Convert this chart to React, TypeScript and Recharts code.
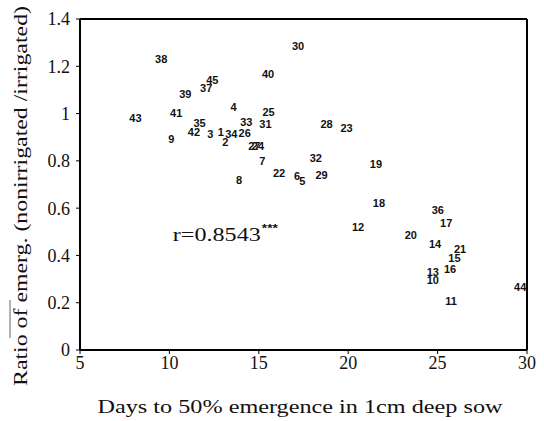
import React from "react";
import {
  ScatterChart,
  Scatter,
  XAxis,
  YAxis,
  ReferenceLine,
  ReferenceDot,
} from "recharts";

const ids = [
  38, 45, 37, 39, 4, 43, 41, 35, 42, 3, 1, 34, 2, 26, 33, 9, 24, 27, 30, 40,
  25, 31, 28, 23, 32, 7, 22, 6, 5, 29, 8, 19, 18, 12, 36, 17, 20, 14, 21, 15,
  16, 13, 10, 11, 44,
];
const daysValues = [
  9.54, 12.4, 12.06, 10.89, 13.59, 8.1, 10.38, 11.69, 11.37, 12.29, 12.87,
  13.46, 13.13, 14.21, 14.3, 10.1, 14.95, 14.75, 17.2, 15.52, 15.55, 15.37,
  18.79, 19.91, 18.19, 15.2, 16.13, 17.14, 17.44, 18.51, 13.89, 21.55, 21.72,
  20.55, 25.01, 25.48, 23.5, 24.86, 26.26, 25.94, 25.7, 24.73, 24.73, 25.76,
  29.62,
];
const ratioValues = [
  1.23, 1.141, 1.108, 1.084, 1.028, 0.983, 1.001, 0.961, 0.924, 0.915, 0.921,
  0.915, 0.879, 0.919, 0.964, 0.893, 0.862, 0.862, 1.286, 1.166, 1.008, 0.954,
  0.954, 0.937, 0.813, 0.801, 0.749, 0.738, 0.714, 0.742, 0.721, 0.788, 0.622,
  0.521, 0.593, 0.537, 0.487, 0.449, 0.428, 0.391, 0.343, 0.332, 0.297, 0.208,
  0.268,
];
const xTicks = [5, 10, 15, 20, 25, 30];
const yTicks = [0, 0.2, 0.4, 0.6, 0.8, 1, 1.2, 1.4];
const xTitle = "Days to 50% emergence in 1cm deep sow";
const yTitle = "Ratio of emerg. (nonirrigated /irrigated)";
const annotation = { x: 13.1, y: 0.49, text: "r=0.8543", stars: "***" };

const data = ids.map((id, i) => ({ x: daysValues[i], y: ratioValues[i], id }));

const serif = "'Liberation Serif', 'DejaVu Serif', serif";
const sans = "'Liberation Sans', Arial, sans-serif";

const LabelShape = (props: any) => {
  const { cx, cy, payload } = props;
  return (
    <text
      x={cx}
      y={cy}
      textAnchor="middle"
      dominantBaseline="central"
      fontFamily={sans}
      fontSize={11}
      fontWeight={700}
      fill="#111"
    >
      {payload.id}
    </text>
  );
};

const AnnotationShape = (props: any) => {
  const { cx, cy } = props;
  return (
    <g>
      <text
        x={cx - 52}
        y={cy}
        dominantBaseline="central"
        fontFamily={serif}
        fontSize={19}
        textLength={88}
        lengthAdjust="spacingAndGlyphs"
        fill="#111"
      >
        {annotation.text}
      </text>
      <text
        x={cx + 37}
        y={cy - 6}
        dominantBaseline="central"
        fontFamily={sans}
        fontSize={11}
        fontWeight={700}
        textLength={16}
        lengthAdjust="spacingAndGlyphs"
        fill="#111"
      >
        {annotation.stars}
      </text>
    </g>
  );
};

const YLabel = () => (
  <g>
    <text
      x={0}
      y={0}
      transform="translate(21,196) rotate(-90)"
      textAnchor="middle"
      dominantBaseline="central"
      fontFamily={serif}
      fontSize={18}
      textLength={380}
      lengthAdjust="spacingAndGlyphs"
      fill="#111"
    >
      {yTitle}
    </text>
    <line x1={10} x2={10} y1={300} y2={338} stroke="#666" strokeWidth={1} />
  </g>
);

const XLabel = () => (
  <text
    x={300}
    y={407}
    textAnchor="middle"
    dominantBaseline="central"
    fontFamily={serif}
    fontSize={18}
    textLength={405}
    lengthAdjust="spacingAndGlyphs"
    fill="#111"
  >
    {xTitle}
  </text>
);

export default function App() {
  return (
    <div style={{ position: "absolute", left: 0, top: 0, background: "#fff" }}>
      <ScatterChart
        width={544}
        height={421}
        margin={{ top: 19, right: 17, bottom: 41, left: 0 }}
      >
        <XAxis
          type="number"
          dataKey="x"
          domain={[5, 30]}
          ticks={xTicks}
          interval={0}
          height={30}
          axisLine={{ stroke: "#000", strokeWidth: 2 }}
          tickLine={{ stroke: "#000" }}
          tickSize={4}
          tick={{ fill: "#111", fontFamily: serif, fontSize: 18 }}
          label={<XLabel />}
        />
        <YAxis
          type="number"
          dataKey="y"
          domain={[0, 1.4]}
          ticks={yTicks}
          interval={0}
          width={80}
          axisLine={{ stroke: "#000", strokeWidth: 2 }}
          tickLine={{ stroke: "#000" }}
          tickSize={4}
          tick={{ fill: "#111", fontFamily: serif, fontSize: 18, dx: -4 }}
          label={<YLabel />}
        />
        <ReferenceLine y={1.4} stroke="#000" strokeWidth={2} />
        <ReferenceLine x={30} stroke="#000" strokeWidth={2} />
        <ReferenceDot
          x={annotation.x}
          y={annotation.y}
          r={0}
          shape={<AnnotationShape />}
        />
        <Scatter data={data} isAnimationActive={false} shape={<LabelShape />} />
      </ScatterChart>
    </div>
  );
}
